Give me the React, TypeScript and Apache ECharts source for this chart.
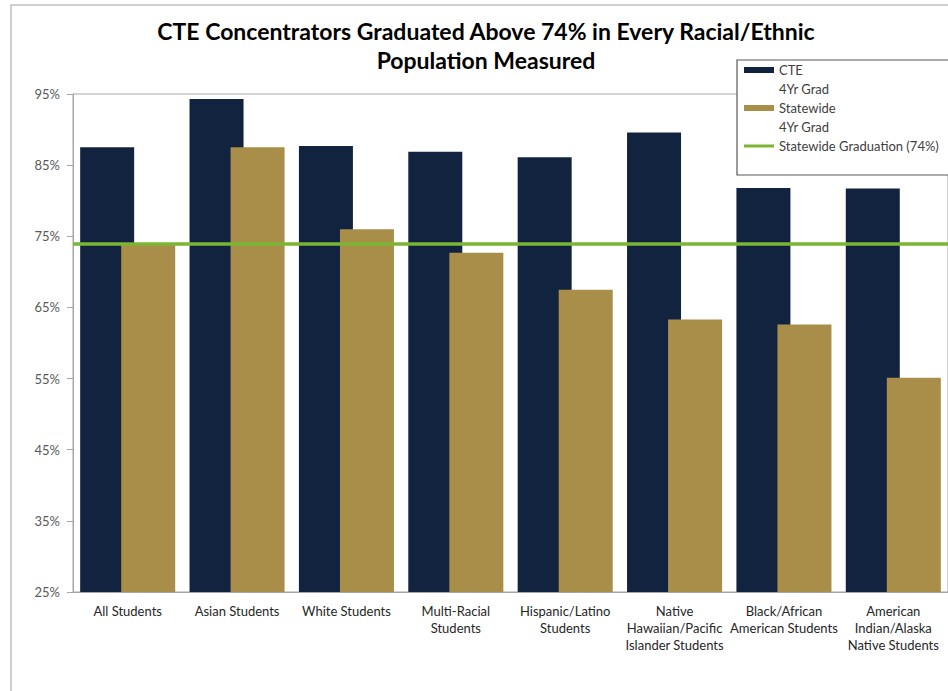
import React, { useEffect, useRef } from "react";
import * as echarts from "echarts";

const TITLE = "CTE Concentrators Graduated Above 74% in Every Racial/Ethnic\nPopulation Measured";
const CATEGORIES = [
  "All Students",
  "Asian Students",
  "White Students",
  "Multi-Racial\nStudents",
  "Hispanic/Latino\nStudents",
  "Native\nHawaiian/Pacific\nIslander Students",
  "Black/African\nAmerican Students",
  "American\nIndian/Alaska\nNative Students",
];
const CTE_GRAD = [87.5, 94.3, 87.7, 86.9, 86.1, 89.6, 81.8, 81.7];
const STATEWIDE_GRAD = [74.0, 87.5, 76.0, 72.7, 67.5, 63.3, 62.6, 55.1];
const STATEWIDE_TARGET = 74;
const Y_TICKS = [25, 35, 45, 55, 65, 75, 85, 95];
const SERIES_NAMES = ["CTE\n4Yr Grad", "Statewide\n4Yr Grad", "Statewide Graduation (74%)"];

const NAVY = "#12233f";
const GOLD = "#a98e4a";
const GREEN = "#7ab534";
const FONT = "Lato, 'Open Sans', sans-serif";

export default function App() {
  const ref = useRef<HTMLDivElement>(null);
  useEffect(() => {
    if (!ref.current) return;
    const chart = echarts.init(ref.current, undefined, { renderer: "svg" });
    const legendText = {
      fontFamily: FONT,
      fontSize: 13,
      color: "#404040",
      lineHeight: 19,
    };
    // two-line entries get an empty leading line so that the icon sits beside the first line
    const twoLine = (name: string) => "\n" + name;
    chart.setOption({
      animation: false,
      backgroundColor: "#ffffff",
      title: {
        text: TITLE,
        left: 481,
        top: 11,
        textAlign: "center",
        textStyle: {
          fontFamily: FONT,
          fontWeight: "bold",
          fontSize: 23,
          lineHeight: 29,
          color: "#000000",
        },
      },
      graphic: [
        {
          type: "rect",
          z: -10,
          shape: { x: 11, y: 5, width: 1000, height: 1000 },
          style: { fill: "none", stroke: "#bfbfbf", lineWidth: 1.5 },
          silent: true,
        },
        {
          type: "rect",
          z: 3,
          shape: { x: 737, y: 60, width: 215, height: 115 },
          style: { fill: "#ffffff", stroke: "#595959", lineWidth: 1.2 },
          silent: true,
        },
      ],
      legend: [
        {
          data: [{ name: SERIES_NAMES[0], icon: "rect" }],
          orient: "vertical",
          left: 739,
          top: 36.5,
          itemWidth: 30,
          itemHeight: 6,
          itemGap: 0,
          formatter: twoLine,
          textStyle: { ...legendText },
          selectedMode: false,
        },
        {
          data: [{ name: SERIES_NAMES[1], icon: "rect" }],
          orient: "vertical",
          left: 739,
          top: 74.5,
          itemWidth: 30,
          itemHeight: 6,
          itemGap: 0,
          formatter: twoLine,
          textStyle: { ...legendText },
          selectedMode: false,
        },
        {
          data: [{ name: SERIES_NAMES[2], icon: "rect" }],
          orient: "vertical",
          left: 739,
          top: 131.5,
          itemWidth: 30,
          itemHeight: 3,
          itemGap: 0,
          textStyle: { ...legendText },
          selectedMode: false,
        },
      ],
      grid: {
        left: 73,
        top: 94,
        width: 883,
        height: 498,
        show: true,
        borderColor: "#a6a6a6",
        borderWidth: 1,
        backgroundColor: "transparent",
      },
      xAxis: {
        type: "category",
        data: CATEGORIES,
        axisLine: { show: true, lineStyle: { color: "#a6a6a6", width: 1 } },
        axisTick: { show: false },
        axisLabel: {
          interval: 0,
          margin: 10,
          fontFamily: FONT,
          fontSize: 13,
          lineHeight: 17,
          color: "#262626",
        },
      },
      yAxis: {
        type: "value",
        min: 25,
        max: 95,
        splitLine: { show: false },
        axisLine: { show: true, lineStyle: { color: "#a6a6a6", width: 1 } },
        axisTick: {
          show: true,
          inside: false,
          length: 6,
          customValues: Y_TICKS,
          lineStyle: { color: "#a6a6a6" },
        },
        axisLabel: {
          customValues: Y_TICKS,
          formatter: "{value}%",
          margin: 13,
          fontFamily: FONT,
          fontSize: 13,
          color: "#595959",
        },
      },
      series: [
        {
          name: SERIES_NAMES[0],
          type: "bar",
          data: CTE_GRAD,
          barWidth: 54,
          barGap: "-24%",
          itemStyle: { color: NAVY },
        },
        {
          name: SERIES_NAMES[1],
          type: "bar",
          data: STATEWIDE_GRAD,
          barWidth: 54,
          barGap: "-24%",
          itemStyle: { color: GOLD },
          markLine: {
            silent: true,
            symbol: ["none", "none"],
            label: { show: false },
            lineStyle: { color: GREEN, width: 3.5, type: "solid" },
            data: [{ yAxis: STATEWIDE_TARGET }],
            z: 5,
          },
        },
        {
          name: SERIES_NAMES[2],
          type: "line",
          data: [],
          symbol: "none",
          itemStyle: { color: GREEN },
          lineStyle: { color: GREEN, width: 3 },
        },
      ],
    });
    return () => chart.dispose();
  }, []);
  return (
    <div
      ref={ref}
      style={{ position: "absolute", left: 0, top: 0, width: 948, height: 691 }}
    />
  );
}
